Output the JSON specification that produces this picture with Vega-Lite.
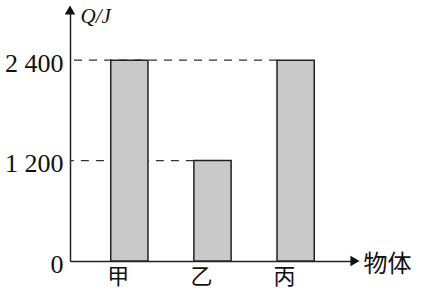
{
  "$schema": "https://vega.github.io/schema/vega-lite/v6.json",
  "width": 285,
  "height": 251,
  "autosize": {"type": "none"},
  "padding": {"left": 70, "top": 10, "right": 68, "bottom": 32},
  "background": "white",
  "config": {
    "view": {"stroke": null},
    "axis": {"grid": false, "domainColor": "#222", "domainWidth": 1.5, "ticks": false, "labelColor": "#111", "titleColor": "#111"}
  },
  "datasets": {
    "bars": [
      {"name": "甲", "Q": 2400},
      {"name": "乙", "Q": 1200},
      {"name": "丙", "Q": 2400}
    ],
    "guides": [
      {"Q": 2400, "target": "丙"},
      {"Q": 1200, "target": "乙"}
    ],
    "origin": [{"Q": 0}],
    "top": [{"Q": 3000}]
  },
  "layer": [
    {
      "data": {"name": "guides"},
      "mark": {"type": "rule", "strokeDash": [8, 7], "strokeWidth": 1.3, "color": "#333"},
      "encoding": {
        "x": {"field": "target", "type": "nominal", "bandPosition": 0, "sort": ["甲", "乙", "丙"],
              "scale": {"domain": ["甲", "乙", "丙"], "paddingInner": 0.552, "paddingOuter": 0.49}},
        "x2": {"value": 0},
        "y": {"field": "Q", "type": "quantitative"}
      }
    },
    {
      "data": {"name": "bars"},
      "mark": {"type": "bar", "fill": "#c9c9c9", "stroke": "#222", "strokeWidth": 1.5},
      "encoding": {
        "x": {"field": "name", "type": "nominal", "sort": ["甲", "乙", "丙"],
              "axis": {"title": "物体", "labelAngle": 0, "labelFont": "Noto Sans CJK SC", "labelFontSize": 22, "labelPadding": 5, "labelBaseline": "top",
                       "titleFont": "Noto Sans CJK SC", "titleFontSize": 24, "titleFontWeight": "normal",
                       "titleAlign": "left", "titleBaseline": "alphabetic", "titleAnchor": null, "titleX": 293, "titleY": 10}},
        "y": {"field": "Q", "type": "quantitative",
              "scale": {"domain": [0, 3000], "nice": false},
              "axis": {"values": [0, 1200, 2400], "labelExpr": "replace(format(datum.value, ','), ',', ' ')",
                       "labelFont": "Liberation Serif", "labelFontSize": 26, "labelPadding": 7, "labelOffset": 3,
                       "title": "Q/J", "titleAngle": 0, "titleFont": "Liberation Serif", "titleFontStyle": "italic", "titleFontSize": 21, "titleFontWeight": "normal",
                       "titleAlign": "left", "titleBaseline": "alphabetic", "titleAnchor": null, "titleX": 10, "titleY": 12}}
      }
    },
    {
      "data": {"name": "origin"},
      "mark": {"type": "point", "shape": "triangle-right", "filled": true, "color": "#111", "size": 110, "opacity": 1},
      "encoding": {
        "x": {"value": "width"},
        "y": {"field": "Q", "type": "quantitative"}
      }
    },
    {
      "data": {"name": "top"},
      "mark": {"type": "point", "shape": "triangle-up", "filled": true, "color": "#111", "size": 110, "opacity": 1},
      "encoding": {
        "x": {"value": 0},
        "y": {"field": "Q", "type": "quantitative"}
      }
    }
  ]
}
